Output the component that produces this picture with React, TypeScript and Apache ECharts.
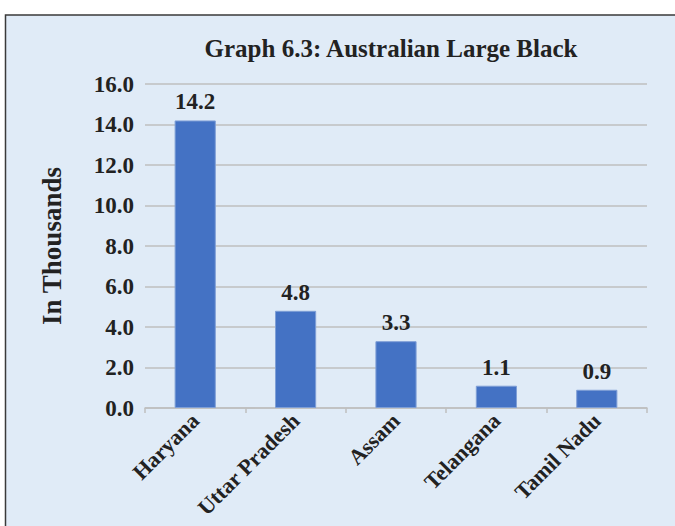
import React, { useEffect, useRef } from "react";
import * as echarts from "echarts";

const categories = ["Haryana", "Uttar Pradesh", "Assam", "Telangana", "Tamil Nadu"];
const values = [14.2, 4.8, 3.3, 1.1, 0.9];
const yTicks = { min: 0, max: 16, interval: 2 };
const titleText = "Graph 6.3: Australian Large Black";
const yAxisName = "In Thousands";

const FONT = "'Liberation Serif', 'DejaVu Serif', serif";

export default function App() {
  const ref = useRef<HTMLDivElement>(null);
  useEffect(() => {
    if (!ref.current) return;
    const chart = echarts.init(ref.current, undefined, { renderer: "svg" });
    chart.setOption({
      animation: false,
      backgroundColor: "#ffffff",
      graphic: [
        {
          type: "rect",
          z: -10,
          silent: true,
          shape: { x: 5.5, y: 15, width: 690, height: 530 },
          style: { fill: "#e0ebf7", stroke: "#3a3a3a", lineWidth: 1.5 },
        },
      ],
      title: {
        text: titleText,
        left: 386,
        top: 31,
        textAlign: "center",
        textStyle: { fontFamily: FONT, fontWeight: "bold", fontSize: 25, color: "#222222" },
      },
      grid: { left: 145, right: 28, top: 84, bottom: 118, containLabel: false, outerBoundsMode: "none" },
      xAxis: {
        type: "category",
        data: categories,
        axisLine: { lineStyle: { color: "#bfbfbf", width: 1.5 } },
        axisTick: { show: true, alignWithLabel: false, length: 5, lineStyle: { color: "#bfbfbf", width: 1.5 } },
        axisLabel: {
          rotate: 45,
          interval: 0,
          margin: 9,
          fontFamily: FONT,
          fontWeight: "bold",
          fontSize: 22,
          color: "#222222",
        },
      },
      yAxis: {
        type: "value",
        min: yTicks.min,
        max: yTicks.max,
        interval: yTicks.interval,
        name: yAxisName,
        nameLocation: "middle",
        nameGap: 80,
        nameRotate: 90,
        nameTextStyle: { fontFamily: FONT, fontWeight: "bold", fontSize: 27, color: "#222222" },
        axisLine: { show: false },
        axisTick: { show: false },
        splitLine: { lineStyle: { color: "#bfbfbf", width: 1.5 } },
        axisLabel: {
          margin: 11,
          fontFamily: FONT,
          fontWeight: "bold",
          fontSize: 23,
          color: "#222222",
          formatter: (v: number) => v.toFixed(1),
        },
      },
      series: [
        {
          type: "bar",
          data: values,
          barWidth: "41%",
          itemStyle: { color: "#4472c4", borderColor: "#7f9fd6", borderWidth: 1 },
          label: {
            show: true,
            position: "top",
            distance: 7,
            fontFamily: FONT,
            fontWeight: "bold",
            fontSize: 23,
            color: "#222222",
            formatter: (p: any) => Number(p.value).toFixed(1),
          },
        },
      ],
    });
    return () => chart.dispose();
  }, []);
  return (
    <div
      ref={ref}
      style={{ position: "fixed", left: 0, top: 0, width: 675, height: 526 }}
    />
  );
}
